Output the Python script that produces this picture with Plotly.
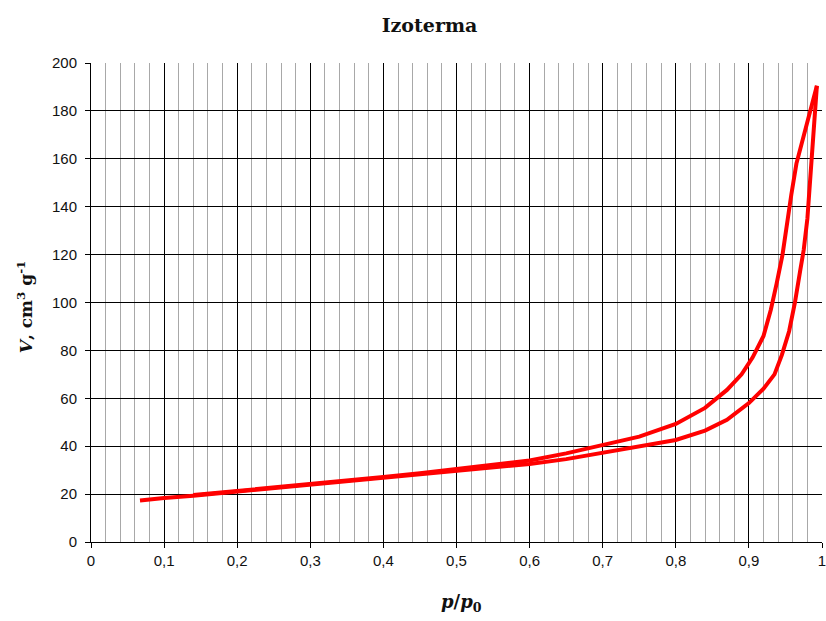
import plotly.graph_objects as go

# Adsorption branch (lower)
ads_x = [0.067, 0.1, 0.14, 0.2, 0.3, 0.4, 0.5, 0.6, 0.65, 0.7, 0.75, 0.8, 0.84, 0.87,
         0.9, 0.92, 0.935, 0.945, 0.955, 0.963, 0.97, 0.975, 0.98, 0.984, 0.988, 0.993]
ads_v = [17.3, 18.4, 19.3, 21.0, 24.0, 26.8, 29.6, 32.6, 34.6, 37.3, 39.6, 42.6, 46.5, 51.0,
         58.0, 64.0, 70.0, 78.0, 88.0, 100.0, 113.0, 122.0, 135.0, 152.0, 172.0, 190.5]

# Desorption branch (upper)
des_x = [0.993, 0.982, 0.972, 0.965, 0.958, 0.952, 0.946, 0.938, 0.93, 0.92, 0.905, 0.89,
         0.87, 0.84, 0.8, 0.75, 0.7, 0.65, 0.6, 0.5, 0.45, 0.4, 0.3, 0.2, 0.14]
des_v = [190.5, 178.0, 167.0, 158.0, 145.0, 132.0, 120.0, 108.0, 97.0, 86.0, 77.0, 70.0,
         63.5, 56.0, 49.3, 44.0, 40.3, 37.0, 34.0, 30.3, 28.7, 27.1, 24.3, 21.3, 19.6]

x_ticks = [0, 0.1, 0.2, 0.3, 0.4, 0.5, 0.6, 0.7, 0.8, 0.9, 1]
y_ticks = [0, 20, 40, 60, 80, 100, 120, 140, 160, 180, 200]

RED = "#ff0000"

fig = go.Figure()
fig.add_trace(go.Scatter(x=ads_x, y=ads_v, mode="lines",
                         line=dict(color=RED, width=4), showlegend=False))
fig.add_trace(go.Scatter(x=des_x, y=des_v, mode="lines",
                         line=dict(color=RED, width=4), showlegend=False))

tick_font = dict(family="Liberation Sans, Arial, sans-serif", size=15, color="#111")

fig.update_layout(
    width=826, height=621,
    margin=dict(l=91, r=4, t=63, b=79, autoexpand=False),
    paper_bgcolor="white", plot_bgcolor="white",
    separators=", ",
    title=dict(text="<b>Izoterma</b>", x=429.5 / 826, xanchor="center",
               y=1 - 25 / 621, yanchor="middle",
               font=dict(family="DejaVu Serif, serif", size=19, color="#111")),
    xaxis=dict(range=[0, 1], tickvals=x_ticks, showgrid=True, gridcolor="#000",
               gridwidth=1, showline=True, linecolor="#000", linewidth=1,
               ticks="outside", ticklen=5, tickcolor="#000", tickfont=tick_font,
               ticklabeloverflow="allow", automargin=False, zeroline=False,
               minor=dict(dtick=0.02, tick0=0, showgrid=True, gridcolor="#a8a8a8",
                          gridwidth=1.3)),
    yaxis=dict(range=[0, 200], tickvals=y_ticks, showgrid=True, gridcolor="#000",
               gridwidth=1, showline=True, linecolor="#000", linewidth=1,
               ticks="outside", ticklen=5, tickcolor="#000", tickfont=tick_font,
               ticklabelstandoff=5, automargin=False, zeroline=False),
    annotations=[
        dict(text="<b><i>p</i>/<i>p</i><sub>0</sub></b>", xref="paper", yref="paper",
             x=(461 - 91) / 731, y=-(603 - 541.7) / 479, xanchor="center",
             yanchor="middle", showarrow=False,
             font=dict(family="DejaVu Serif, serif", size=18, color="#111")),
        dict(text="<b><i>V</i>, cm<sup>3</sup> g<sup>-1</sup></b>", xref="paper",
             yref="paper", x=-(91 - 25) / 731, y=(541.7 - 307) / 479,
             xanchor="center", yanchor="middle", textangle=-90, showarrow=False,
             font=dict(family="DejaVu Serif, serif", size=17, color="#111")),
    ],
)

fig.write_html("out.html", config={"displayModeBar": False},
               post_script="document.body.style.margin='0';document.body.style.overflow='hidden';")
